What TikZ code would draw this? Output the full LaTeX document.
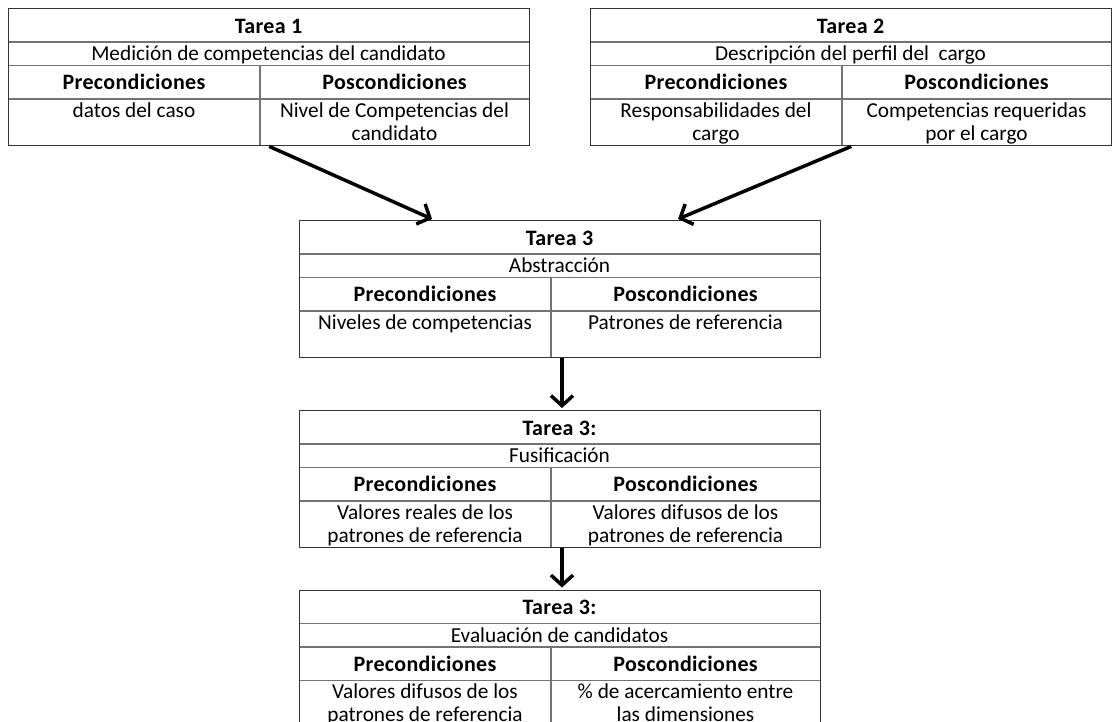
\documentclass[tikz,border=0pt]{standalone}
\usepackage{fontspec}
\setmainfont{Carlito}
\usetikzlibrary{arrows.meta,calc}

\tikzset{
  marco/.style={draw=black!80, line width=1.4pt, inner sep=0pt,
    minimum width=521pt, minimum height=137pt, anchor=north west},
  fila/.style={draw=black!55, line width=1.4pt},
  texto/.style={anchor=base, inner sep=0pt, font=\fontsize{21.3}{23}\selectfont},
  titulo/.style={texto, font=\fontsize{22}{23}\selectfont\bfseries\addfontfeature{LetterSpace=1.5}},
  flecha/.style={line width=3.5pt, -{Straight Barb[length=10pt,width=22pt]}},
}

% one task table: name, top-left corner, title, subtitle, pre- and postconditions
\newcommand{\tarea}[6]{%
  \node[marco] (#1) at (#2) {};
  \begin{scope}[shift={(#1.north west)}]
    \draw[fila] (0,34) -- (521,34);
    \draw[fila] (0,57.5) -- (521,57.5);
    \draw[fila] (0,91) -- (521,91);
    \draw[fila] (252,57.5) -- (252,137);
    \node[titulo] (#1-t) at (260.5,25) {#3};
    \node[texto]  (#1-s) at (260.5,52.5) {#4};
    \node[titulo] (#1-a) at (126,81.5) {Precondiciones};
    \node[titulo] (#1-b) at (386.5,81.5) {Poscondiciones};
    \node[texto]  (#1-c) at (126,109) {\parbox[t]{248pt}{\centering #5}};
    \node[texto]  (#1-d) at (386.5,109) {\parbox[t]{268pt}{\centering #6}};
  \end{scope}
  \node[marco] at (#2) {};
}

\begin{document}
\begin{tikzpicture}[x=1pt,y=-1pt]
  \useasboundingbox (0,0) rectangle (1113,721);
  \clip (0,0) rectangle (1113,721);

  \tarea{t1}{8,8}{Tarea 1}{Medición de competencias del candidato}
    {datos del caso}{Nivel de Competencias del\\candidato}
  \tarea{t2}{590,8}{Tarea 2}{Descripción del perfil del\ \ cargo}
    {Responsabilidades del\\cargo}{Competencias requeridas\\por el cargo}
  \tarea{t3}{299,220}{Tarea 3}{Abstracción}
    {Niveles de competencias}{Patrones de referencia}
  \tarea{t4}{299,410}{Tarea 3:}{Fusificación}
    {Valores reales de los\\patrones de referencia}{Valores difusos de los\\patrones de referencia}
  \tarea{t5}{299,589.5}{Tarea 3:}{Evaluación de candidatos}
    {Valores difusos de los\\patrones de referencia}{\% de acercamiento entre\\las dimensiones}

  % connectors
  \coordinate (e1) at ($(t3.north west)+(133,-1)$);
  \coordinate (e2) at ($(t3.north west)+(379,-1)$);
  \coordinate (s3) at ($(t3.south west)+(263,0)$);
  \coordinate (n4) at ($(t4.north west)+(263,-2)$);
  \coordinate (s4) at ($(t4.south west)+(263,0)$);
  \coordinate (n5) at ($(t5.north west)+(263,-2)$);

  \draw[flecha] (t1.south) -- (e1);
  \draw[flecha] (t2.south) -- (e2);
  \draw[flecha] (s3) -- (n4);
  \draw[flecha] (s4) -- (n5);
\end{tikzpicture}
\end{document}
